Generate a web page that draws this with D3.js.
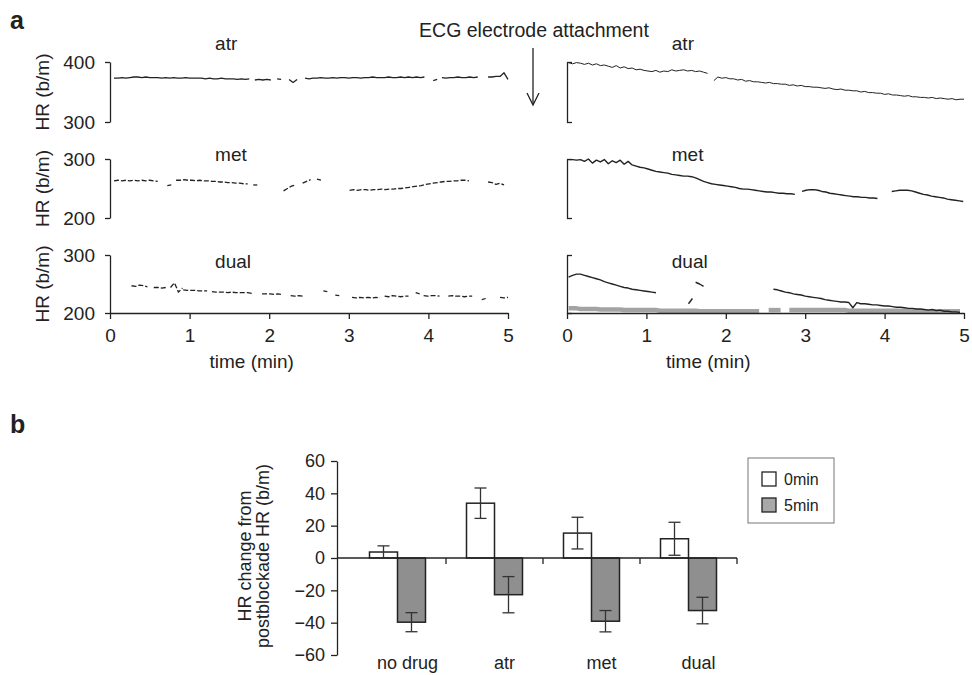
<!DOCTYPE html>
<html>
<head>
<meta charset="utf-8">
<script src="https://cdn.jsdelivr.net/npm/d3@7"></script>
<style>
  body { margin: 0; background: #fff; }
  text { font-family: "Liberation Sans", Arial, sans-serif; fill: #222; }
</style>
</head>
<body>
<script>
// traces are stored as segments: [start time (min), values sampled every dt]
const dt = 0.05

const leftAtr = [
  [0.05, [373,373,374,373,374,375,375,374,375,374,374,374,373,374,373,374,373,373,374,373,
          373,373,373,372,373,372,372,373,372,372,372,371,372,371,372]],
  [1.82, [370,371,370,371,370]],
  [2.1, [372,371]],
  [2.25, [371,366,371]],
  [2.45, [373,372,373,373,374,373,373,374,373,374,374,373,374,374,373,374,374,375,374,374,
          374,375,374,374,375,374,375,374,375,374,375]],
  [4.06, [369,371]],
  [4.17, [374,373,374,374,375,374,374,375,374,375]],
  [4.75, [375,375,376,376,382,371]]
]
const leftMet = [
  [0.05, [263,264,263,264,263,264,263,264,263,264,263,262]],
  [0.72, [255,256]],
  [0.83, [264,264,265,264,264,263,264,263,263,262,262,261,261,260,260,259,259,258,258]],
  [1.8, [256,256]],
  [2.18, [246,250,254,256]],
  [2.42, [259,262,265]],
  [2.6, [266,264]],
  [3.01, [247,248,247,248,248,247,248,248,249,248,249,249,250,250,251,252,253,254,255,257,
          258,259,260,261,262,262,263,263,264,264,263]],
  [4.75, [261,260,257,259,256]]
]
const leftDual = [
  [0.27, [247,246,248,247,245]],
  [0.55, [244,244,243,244]],
  [0.76, [244,252,236,243]],
  [0.92, [240,239,239,239,238,238,238]],
  [1.28, [237,236,236,236,235,236,235,235,235,235,234]],
  [1.91, [233,233,233,232,233,232]],
  [2.27, [230,229,230,229]],
  [2.68, [238,237]],
  [2.83, [231,230]],
  [3.04, [227,226,227,226,227,226,227,226]],
  [3.45, [229,228,230,229,228,229,229]],
  [3.84, [235,233]],
  [3.94, [230,229,230,230,229]],
  [4.25, [229,230,229,229,228,229,229]],
  [4.67, [223,225]],
  [4.9, [227,226,227]]
]
const rightAtr = [
  [0.02, [399,397,399,398,396,398,395,397,394,395,393,391,394,390,392,389,390,387,388,386,
          385,384,386,383,385,384,387,385,386,387,385,386,384,385,383,381]],
  [1.85, [369,375,373,374,372,372,370,371,368,369,367,367,366,365,366,364,364,363,363,361,
          362,360,361,359,359,358,358,357,356,357,355,354,355,353,353,352,352,350,351,349,
          349,348,348,346,347,345,345,344,343,344,342,342,341,341,340,341,339,340,339,338,
          339,337,338,338]]
]
const rightMet = [
  [0.02, [299,299,298,299,296,300,293,298,295,299,292,297,294,298,291,296,290,288,286,285,
          283,281,279,278,277,276,274,273,272,271,271,270,268,265,262,260,258,257,256,255,
          254,253,252,250,249,249,248,247,246,245,244,244,243,242,242,241,241,240]],
  [2.96, [245,247,248,248,247,245,244,242,241,240,239,238,237,236,236,235,235,234,234,233]],
  [4.09, [245,246,247,247,247,246,244,242,240,239,237,236,235,234,232,231,230,229,228]]
]
const rightDual = [
  [0.02, [262,265,267,267,265,263,261,259,257,254,252,250,248,246,244,243,241,240,239,238,
          237,236,235]],
  [1.53, [216,225]],
  [1.62, [253,250,246]],
  [2.6, [241,240,238,236,235,233,232,231,229,228,227,226,225,223,222,221,220,219,219,218,
         209,218,216,216,215,214,214,213,212,212,211,210,210,209,208,208,207,207,206,205,
         206,204,205,203,203,202,202,201]]
]
const rightDualGray = [
  [0.02, [208,208,208,207,207,207,207,207,206,206,206,206,206,206,205,205,205,205,205,205,
          205,205,205,204,204,204,204,204,204,204,204,204,204,203,203,203,203,203,203,203,
          203,203,203,203,203,203,203,203,203]],
  [2.54, [205,205,205,205]],
  [2.8, [205,205,205,205,205,205,205,205,205,205,205,205,205,205,205,204,204,204,204,204,
         204,204,204,204,204,204,204,204,204,204,204,203,203,203,203,203,203,203,203,203,
         203,203,203,203]]
]

// panel b
const drugs = ["no drug", "atr", "met", "dual"]
const times = ["0min", "5min"]
const mean0 = [3.7, 33.9, 15.4, 11.9]
const err0 = [3.8, 9.4, 9.8, 10.2]
const mean5 = [-39.7, -22.7, -39.1, -32.5]
const err5 = [5.9, 11.2, 6.6, 8.2]

const svg = d3.select("body").append("svg")
    .attr("width", 972)
    .attr("height", 675)

const ink = "#222"
const fontSize = 18
const fontA = 19

// ---- panel a ----
const xLeft = d3.scaleLinear().domain([0, 5]).range([110, 508])
const xRight = d3.scaleLinear().domain([0, 5]).range([567, 964])

const rows = [
  { name: "atr", domain: [300, 400], top: 62, bottom: 122, titleY: 50, left: leftAtr, right: rightAtr, dash: null },
  { name: "met", domain: [200, 300], top: 159, bottom: 218, titleY: 161, left: leftMet, right: rightMet, dash: "5,2" },
  { name: "dual", domain: [200, 300], top: 255, bottom: 313, titleY: 268, left: leftDual, right: rightDual, dash: "5,2" }
]

function drawTrace(g, segments, x, y, color, width, dash) {
  const line = d3.line().x(d => x(d[0])).y(d => y(d[1]))
  segments.forEach(seg => {
    const pts = seg[1].map((v, i) => [seg[0] + i * dt, v])
    g.append("path")
      .attr("d", line(pts))
      .attr("fill", "none")
      .attr("stroke", color)
      .attr("stroke-width", width)
      .attr("stroke-linejoin", "round")
      .attr("stroke-dasharray", dash)
  })
}

function styleAxis(g, size) {
  g.selectAll("path, line").attr("stroke", ink).attr("stroke-width", 1.3)
  g.selectAll("text")
    .style("font-size", size + "px")
    .attr("fill", ink)
  g.attr("font-family", null).attr("font-size", null)
}

rows.forEach(r => {
  const y = d3.scaleLinear().domain(r.domain).range([r.bottom, r.top])

  // left panel
  const yAxisL = svg.append("g")
    .attr("transform", `translate(${xLeft(0)},0)`)
    .call(d3.axisLeft(y).tickValues(r.domain).tickSize(5).tickSizeOuter(0).tickPadding(10))
  styleAxis(yAxisL, fontA)

  svg.append("text")
    .attr("transform", `translate(49,${(r.top + r.bottom) / 2}) rotate(-90)`)
    .attr("text-anchor", "middle")
    .style("font-size", fontA + "px")
    .text("HR (b/m)")

  // right panel
  const yAxisR = svg.append("g")
    .attr("transform", `translate(${xRight(0)},0)`)
    .call(d3.axisRight(y).tickValues(r.domain).tickSize(5).tickSizeOuter(0).tickFormat(""))
  styleAxis(yAxisR, fontA)

  const gl = svg.append("g")
  const gr = svg.append("g")
  if (r.name == "dual") {
    drawTrace(gr, rightDualGray, xRight, y, "#a3a3a3", 4.5, null)
  }
  drawTrace(gl, r.left, xLeft, y, ink, 1.3, r.dash)
  drawTrace(gr, r.right, xRight, y, ink, r.name == "atr" ? 1 : 1.4, null)

  svg.append("text").attr("x", xLeft(1.32)).attr("y", r.titleY)
    .style("font-size", fontA + "px").text(r.name)
  svg.append("text").attr("x", xRight(1.32)).attr("y", r.titleY)
    .style("font-size", fontA + "px").text(r.name)

  if (r.name == "dual") {
    [xLeft, xRight].forEach(x => {
      const xa = svg.append("g")
        .attr("transform", `translate(0,${r.bottom})`)
        .call(d3.axisBottom(x).tickValues([0, 1, 2, 3, 4, 5]).tickFormat(d3.format("d"))
          .tickSize(6).tickSizeOuter(0).tickPadding(10))
      styleAxis(xa, fontA)
      svg.append("text")
        .attr("x", x(1.78))
        .attr("y", r.bottom + 55)
        .attr("text-anchor", "middle")
        .style("font-size", fontA + "px")
        .text("time (min)")
    })
  }
})

// electrode annotation
svg.append("text")
    .attr("x", 534).attr("y", 37)
    .attr("text-anchor", "middle")
    .style("font-size", "19.5px")
    .text("ECG electrode attachment")
svg.append("line")
    .attr("x1", 533).attr("x2", 533).attr("y1", 48).attr("y2", 104)
    .attr("stroke", ink).attr("stroke-width", 1.3)
svg.append("path")
    .attr("d", "M527,93 L533,105 L539,93")
    .attr("fill", "none").attr("stroke", ink).attr("stroke-width", 1.3)

svg.append("text").attr("x", 10).attr("y", 29)
    .style("font-size", "25px").style("font-weight", "bold").text("a")
svg.append("text").attr("x", 10).attr("y", 433)
    .style("font-size", "25px").style("font-weight", "bold").text("b")

// ---- panel b ----
const yB = d3.scaleLinear().domain([-60, 60]).range([655, 461])
const xB = d3.scaleBand().domain(drugs).range([349, 737])
const xSub = d3.scaleBand().domain(times)
    .range([xB.bandwidth() / 2 - 28, xB.bandwidth() / 2 + 28])

const axisX0 = 337

const yAxisB = svg.append("g")
    .attr("transform", `translate(${axisX0},0)`)
    .call(d3.axisLeft(yB).tickValues([-60, -40, -20, 0, 20, 40, 60]).tickSize(6).tickSizeOuter(0).tickPadding(6))
styleAxis(yAxisB, fontSize)

svg.append("text")
    .attr("transform", `translate(254,556) rotate(-90)`)
    .attr("text-anchor", "middle")
    .style("font-size", fontSize + "px")
    .selectAll("tspan")
    .data(["HR change from", "postblockade HR (b/m)"])
    .join("tspan")
      .attr("x", 0)
      .attr("dy", (d, i) => i == 0 ? "-0.15em" : "1.0em")
      .text(d => d)

const barData = []
drugs.forEach((d, i) => {
  barData.push({ drug: d, time: "0min", mean: mean0[i], err: err0[i] })
  barData.push({ drug: d, time: "5min", mean: mean5[i], err: err5[i] })
})
const fillFor = { "0min": "#ffffff", "5min": "#8f8f8f" }

const bars = svg.append("g")
bars.selectAll("rect")
  .data(barData)
  .join("rect")
    .attr("x", d => xB(d.drug) + xSub(d.time))
    .attr("width", xSub.bandwidth())
    .attr("y", d => yB(Math.max(0, d.mean)))
    .attr("height", d => Math.abs(yB(d.mean) - yB(0)))
    .attr("fill", d => fillFor[d.time])
    .attr("stroke", ink)
    .attr("stroke-width", 1.5)

// zero line with category ticks
svg.append("line")
    .attr("x1", axisX0).attr("x2", xB.range()[1])
    .attr("y1", yB(0)).attr("y2", yB(0))
    .attr("stroke", ink).attr("stroke-width", 1.3)
svg.append("g").selectAll("line")
  .data(drugs)
  .join("line")
    .attr("x1", d => xB(d) + xB.bandwidth())
    .attr("x2", d => xB(d) + xB.bandwidth())
    .attr("y1", yB(0)).attr("y2", yB(0) + 6)
    .attr("stroke", ink).attr("stroke-width", 1.3)

// error bars
const errG = svg.append("g").attr("stroke", "#333").attr("stroke-width", 1.3)
barData.forEach(d => {
  const cx = xB(d.drug) + xSub(d.time) + xSub.bandwidth() / 2
  const y1 = yB(d.mean + d.err), y2 = yB(d.mean - d.err)
  errG.append("line").attr("x1", cx).attr("x2", cx).attr("y1", y1).attr("y2", y2)
  errG.append("line").attr("x1", cx - 6).attr("x2", cx + 6).attr("y1", y1).attr("y2", y1)
  errG.append("line").attr("x1", cx - 6).attr("x2", cx + 6).attr("y1", y2).attr("y2", y2)
})

svg.append("g").selectAll("text")
  .data(drugs)
  .join("text")
    .attr("x", d => xB(d) + xB.bandwidth() / 2 + 10)
    .attr("y", 669)
    .attr("text-anchor", "middle")
    .style("font-size", fontSize + "px")
    .text(d => d)

// legend
const legend = svg.append("g")
legend.append("rect")
    .attr("x", 748).attr("y", 458).attr("width", 86).attr("height", 65)
    .attr("fill", "none").attr("stroke", "#777").attr("stroke-width", 1)
times.forEach((t, i) => {
  legend.append("rect")
    .attr("x", 762).attr("y", 472 + i * 26).attr("width", 14).attr("height", 14)
    .attr("fill", i == 0 ? "#fff" : "#a8a8a8")
    .attr("stroke", ink).attr("stroke-width", 1.3)
  legend.append("text")
    .attr("x", 784).attr("y", 485 + i * 26)
    .style("font-size", "16px")
    .text(t)
})
</script>
</body>
</html>
